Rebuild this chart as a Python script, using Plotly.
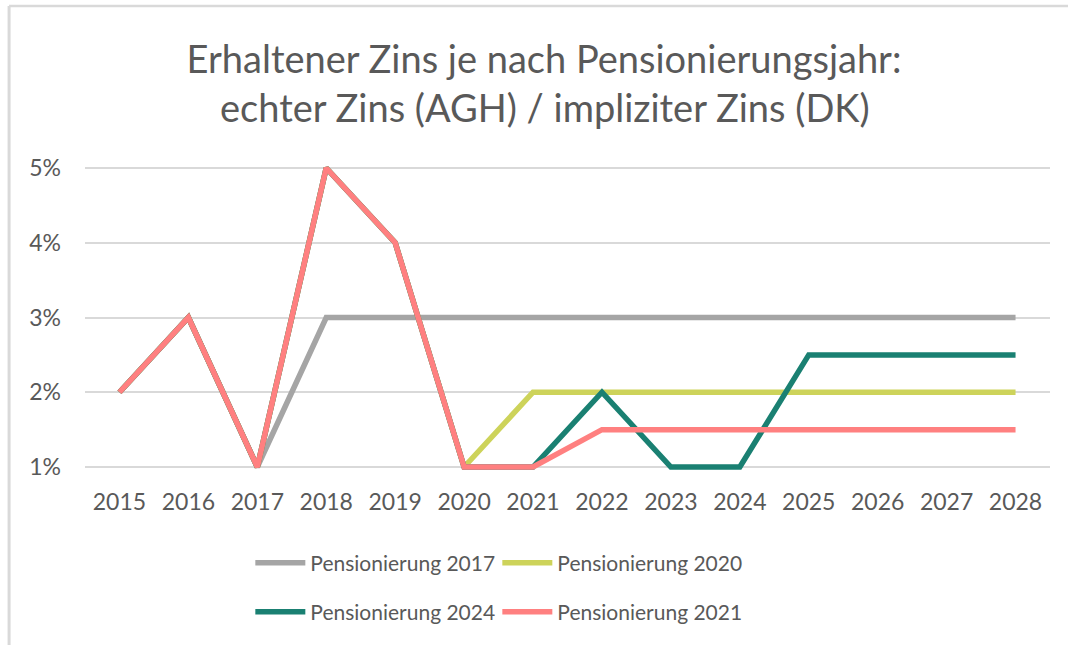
import plotly.graph_objects as go

years = ["2015", "2016", "2017", "2018", "2019", "2020", "2021",
         "2022", "2023", "2024", "2025", "2026", "2027", "2028"]

pens_2017 = [2, 3, 1, 3, 3, 3, 3, 3, 3, 3, 3, 3, 3, 3]
pens_2020 = [2, 3, 1, 5, 4, 1, 2, 2, 2, 2, 2, 2, 2, 2]
pens_2024 = [2, 3, 1, 5, 4, 1, 1, 2, 1, 1, 2.5, 2.5, 2.5, 2.5]
pens_2021 = [2, 3, 1, 5, 4, 1, 1, 1.5, 1.5, 1.5, 1.5, 1.5, 1.5, 1.5]

series = [
    ("Pensionierung 2017", pens_2017, "#A5A5A5", "legend"),
    ("Pensionierung 2020", pens_2020, "#CDD35A", "legend"),
    ("Pensionierung 2024", pens_2024, "#1A8072", "legend2"),
    ("Pensionierung 2021", pens_2021, "#FF8080", "legend2"),
]

FONT = "Lato"
TXT = "#595959"

fig = go.Figure()
for name, vals, color, lg in series:
    fig.add_trace(go.Scatter(
        x=years, y=vals, name=name, mode="lines",
        line=dict(color=color, width=5.5),
        legend=lg,
    ))

W, H = 1068, 645
ml, mr, mt, mb = 84.5, 17.5, 165, 175
pw, ph = W - ml - mr, H - mt - mb


def px_x(p):
    return (p - ml) / pw


def px_y(p):
    return (H - mb - p) / ph


legend_common = dict(
    orientation="h", xanchor="left", yanchor="middle",
    font=dict(family=FONT, size=21, color=TXT),
    bgcolor="rgba(0,0,0,0)", itemwidth=50,
    entrywidth=182, entrywidthmode="pixels",
)

fig.update_layout(
    width=W, height=H,
    margin=dict(l=ml, r=mr, t=mt, b=mb, pad=0),
    paper_bgcolor="white", plot_bgcolor="white",
    font=dict(family=FONT, color=TXT),
    title=dict(
        text="Erhaltener Zins je nach Pensionierungsjahr:",
        x=px_x(544), xanchor="center", xref="paper",
        y=1 - 60 / H, yanchor="middle", yref="container",
        font=dict(family=FONT, size=38, color=TXT),
    ),
    xaxis=dict(
        type="category", range=[-0.5, len(years) - 0.5],
        showgrid=False, showline=False, zeroline=False,
        ticks="", tickfont=dict(family=FONT, size=23, color=TXT),
        ticklabelstandoff=16,
    ),
    yaxis=dict(
        range=[0.96, 5.04], tickvals=[1, 2, 3, 4, 5],
        ticktext=["1%", "2%", "3%", "4%", "5%"],
        showgrid=True, gridcolor="#D9D9D9", gridwidth=2,
        zeroline=False, showline=False, ticks="",
        tickfont=dict(family=FONT, size=23, color=TXT),
        ticklabelstandoff=23,
    ),
    legend=dict(x=px_x(250), y=px_y(563), **legend_common),
    legend2=dict(x=px_x(250), y=px_y(612), **legend_common),
    showlegend=True,
    annotations=[dict(
        text="echter Zins (AGH) / impliziter Zins (DK)",
        xref="paper", yref="paper", x=px_x(545), y=px_y(107),
        xanchor="center", yanchor="middle", showarrow=False,
        font=dict(family=FONT, size=38, color=TXT),
    )],
    shapes=[
        dict(type="line", xref="paper", yref="paper",
             x0=px_x(8.5), x1=px_x(1080), y0=px_y(6), y1=px_y(6),
             line=dict(color="#D9D9D9", width=2.5)),
        dict(type="line", xref="paper", yref="paper",
             x0=px_x(8.5), x1=px_x(8.5), y0=px_y(6), y1=px_y(660),
             line=dict(color="#D9D9D9", width=3)),
    ],
)

fig.write_html(
    "out.html",
    config={"displayModeBar": False},
    post_script="document.body.style.margin='0';"
                "document.body.style.overflow='hidden';",
)
